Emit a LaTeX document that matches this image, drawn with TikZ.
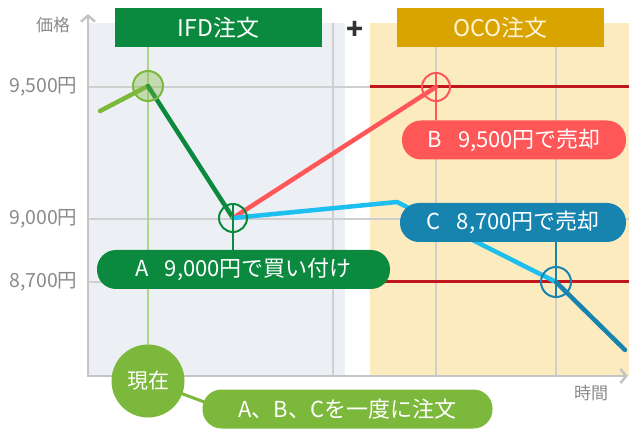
\documentclass[tikz,border=0pt]{standalone}
\usepackage{fontspec}
\setmainfont{Noto Sans CJK JP}
\usetikzlibrary{arrows.meta}
\definecolor{ifdgreen}{HTML}{0B8A3F}
\definecolor{nowgreen}{HTML}{7CB83B}
\definecolor{ocogold}{HTML}{D9A400}
\definecolor{panelgray}{HTML}{ECEFF3}
\definecolor{panelyellow}{HTML}{FDEBC0}
\definecolor{gridgray}{HTML}{CFCFCF}
\definecolor{axisgray}{HTML}{C4C4C4}
\definecolor{textgray}{HTML}{8A8A8A}
\definecolor{sellred}{HTML}{FF5757}
\definecolor{limitred}{HTML}{C0161D}
\definecolor{linecyan}{HTML}{1DBFF0}
\definecolor{stopblue}{HTML}{1784B0}
\tikzset{
  pill/.style={rounded corners=19pt, minimum height=39pt, text=white,
    font=\fontsize{22}{24}\selectfont, inner sep=0pt},
  header/.style={minimum height=39pt, inner sep=0pt,
    font=\fontsize{23}{25}\selectfont},
  price/.style={line width=4.5pt, line cap=round, line join=round},
  pricering/.style={line width=2pt},
  ticklabel/.style={text=textgray, font=\fontsize{19.5}{21}\selectfont, anchor=east},
  axislabel/.style={text=textgray, font=\fontsize{17}{19}\selectfont},
}
\begin{document}
\begin{tikzpicture}[x=1pt,y=-1pt]
\useasboundingbox (0,0) rectangle (629,430);
% panels
\fill[panelgray] (88,23) rectangle (345,376);
\fill[panelyellow] (370,23) rectangle (629,376);
% grid
\draw[gridgray, line width=1.5pt] (88,87) -- (629,87);
\draw[gridgray, line width=1.5pt] (88,219) -- (629,219);
\draw[gridgray, line width=1.5pt] (88,282) -- (629,282);
\draw[gridgray, line width=1.5pt] (333,23) -- (333,376);
\draw[gridgray, line width=1.5pt] (436,47) -- (436,376);
\draw[gridgray, line width=1.5pt] (556,47) -- (556,376);
\draw[nowgreen!60, line width=1.5pt] (148,47) -- (148,350);
% limit lines
\draw[limitred, line width=3pt] (370,87) -- (629,87);
\draw[limitred, line width=3pt] (380,282) -- (629,282);
% axes
\draw[axisgray, line width=2.5pt, -{Straight Barb[length=6pt,width=14pt]}] (88,377) -- (88,14);
\draw[axisgray, line width=2.5pt, -{Straight Barb[length=6pt,width=14pt]}] (87,376) -- (628,376);
\node[ticklabel] (p9500) at (81,87) {9,500円};
\node[ticklabel] (p9000) at (81,219) {9,000円};
\node[ticklabel] (p8700) at (81,282) {8,700円};
\node[axislabel] (ylabel) at (53,25) {価格};
\node[axislabel] (xlabel) at (591,393) {時間};
% headers
\node[header, fill=ifdgreen, text=white, minimum width=207pt] (ifd) at (218.5,27.5) {IFD注文};
\node[header, fill=ocogold, text=panelyellow!60!white, minimum width=207pt] (oco) at (500.5,27.5) {OCO注文};
\node[font=\fontsize{28}{28}\selectfont\bfseries, text=black!80] (plus) at (355,30) {+};
% price path
\coordinate (start) at (100,111);
\coordinate (now) at (148,86);
\coordinate (buy) at (233,218);
\coordinate (sellB) at (436,87);
\coordinate (kink) at (397,202);
\coordinate (sellC) at (556,282);
\coordinate (fall) at (625,350);
\draw[price, nowgreen] (start) -- (now);
\draw[price, ifdgreen] (now) -- (buy);
\draw[price, sellred] (buy) -- (sellB);
\draw[price, linecyan] (buy) -- (kink) -- (sellC);
\draw[price, stopblue] (sellC) -- (fall);
% rings
\fill[nowgreen, fill opacity=0.35] (now) circle (15pt);
\draw[pricering, nowgreen] (now) circle (15pt);
\draw[pricering, ifdgreen] (buy) circle (14pt);
\draw[pricering, sellred] (sellB) circle (14pt);
\draw[pricering, stopblue] (sellC) circle (15pt);
% order labels
\node[pill, fill=ifdgreen, minimum width=293pt] (labA) at (243.5,269.5) {A\hspace{0.75em}9,000円で買い付け\hspace{0.4em}};
\node[pill, fill=sellred, minimum width=224pt] (labB) at (514,140) {B\hspace{0.75em}9,500円で売却};
\node[pill, fill=stopblue, minimum width=226pt] (labC) at (513,222.5) {C\hspace{0.75em}8,700円で売却};
\draw[ifdgreen, line width=2.5pt] ([yshift=14pt]buy) -- (labA.north -| buy);
\draw[sellred, line width=2.5pt] ([yshift=14pt]sellB) -- (labB.north -| sellB);
\draw[stopblue, line width=2.5pt] ([yshift=-15pt]sellC) -- (labC.south -| sellC);
% now
\coordinate (nowC) at (148,381);
\draw[nowgreen, line width=3pt] (nowC) -- (215,406);
\node[circle, fill=nowgreen, minimum size=73pt, inner sep=0pt, text=white,
  font=\fontsize{21}{23}\selectfont] (genzai) at (nowC) {現在};
\node[pill, fill=nowgreen, minimum width=290pt, minimum height=39pt] (allorder) at (347.5,409) {A、B、Cを一度に注文};
\end{tikzpicture}
\end{document}
